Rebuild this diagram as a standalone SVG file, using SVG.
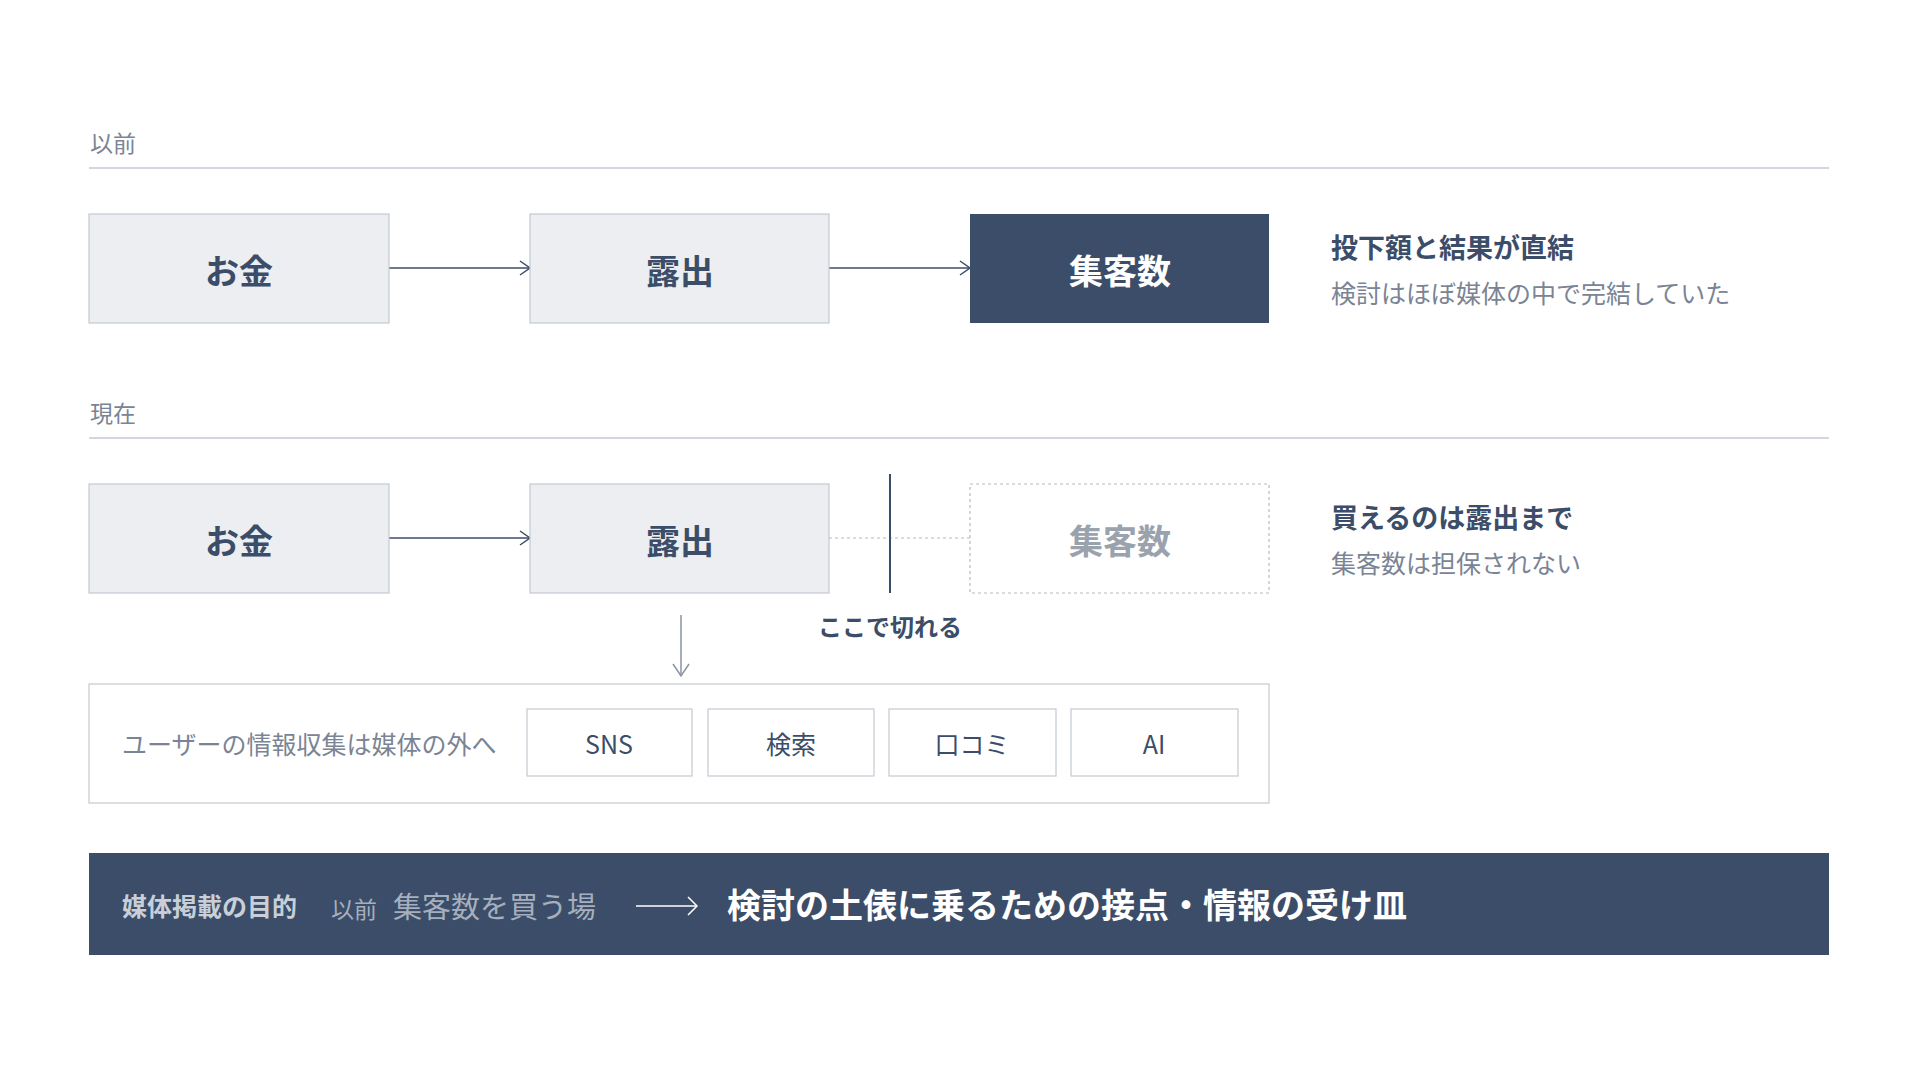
<svg xmlns="http://www.w3.org/2000/svg" width="1920" height="1080" viewBox="0 0 1920 1080">
<defs>
<style>
text{font-family:"Noto Sans CJK JP","Noto Sans",sans-serif}
.sec{font-size:23px;fill:#7a8494}
.rule{stroke:#c4c9d1;stroke-width:1.5}
.box{fill:#eceef2;stroke:#c4c9d1;stroke-width:1.2}
.bl{font-size:34px;font-weight:700;fill:#3b4d68;text-anchor:middle}
.h{font-size:27px;font-weight:700;fill:#3b4d68}
.s{font-size:25px;fill:#7a8494}
.chip{fill:#fff;stroke:#c4c9d1;stroke-width:1.2}
.ct{font-size:25px;fill:#3b4d68;text-anchor:middle}
.ar{stroke:#3b4d68;stroke-width:1.5;fill:none}
</style>
<marker id="ah" markerWidth="12" markerHeight="16" refX="11" refY="8" orient="auto" markerUnits="userSpaceOnUse"><path d="M1,1 L11,8 L1,15" fill="none" stroke="#3b4d68" stroke-width="1.5"/></marker>
</defs>
<rect width="1920" height="1080" fill="#fff"/>
<text class="sec" x="90" y="152">以前</text>
<line class="rule" x1="89" y1="168" x2="1829" y2="168"/>
<text class="sec" x="90" y="422">現在</text>
<line class="rule" x1="89" y1="438" x2="1829" y2="438"/>
<g id="connectors">
<line class="ar" x1="389" y1="268" x2="530" y2="268" marker-end="url(#ah)"/>
<line class="ar" x1="829" y1="268" x2="970" y2="268" marker-end="url(#ah)"/>
<line class="ar" x1="389" y1="538" x2="530" y2="538" marker-end="url(#ah)"/>
<line x1="829" y1="538" x2="970" y2="538" stroke="#b4bac4" stroke-width="1.2" stroke-dasharray="3 3"/>
<line x1="890" y1="474" x2="890" y2="593" stroke="#3b4d68" stroke-width="2"/>
<line x1="681" y1="615" x2="681" y2="676" stroke="#8a93a2" stroke-width="1.5"/>
<path d="M673,664 L681,676 L689,664" fill="none" stroke="#8a93a2" stroke-width="1.5"/>
</g>
<g id="n1"><rect class="box" x="89" y="214" width="300" height="109"/><text class="bl" x="239" y="284">お金</text></g>
<g id="n2"><rect class="box" x="530" y="214" width="299" height="109"/><text class="bl" x="680" y="284">露出</text></g>
<g id="n3"><rect x="970" y="214" width="299" height="109" fill="#3b4d68"/><text class="bl" x="1120" y="284" style="fill:#fff">集客数</text></g>
<g id="note1"><text class="h" x="1331" y="258">投下額と結果が直結</text><text class="s" x="1331" y="303">検討はほぼ媒体の中で完結していた</text></g>
<g id="n4"><rect class="box" x="89" y="484" width="300" height="109"/><text class="bl" x="239" y="554">お金</text></g>
<g id="n5"><rect class="box" x="530" y="484" width="299" height="109"/><text class="bl" x="680" y="554">露出</text></g>
<g id="n6"><rect x="970" y="484" width="299" height="109" fill="#fff" stroke="#b4bac4" stroke-width="1.2" stroke-dasharray="3 3"/><text class="bl" x="1120" y="554" style="fill:#9aa2ae">集客数</text></g>
<g id="note2"><text class="h" x="1331" y="528">買えるのは露出まで</text><text class="s" x="1331" y="573">集客数は担保されない</text></g>
<text x="890" y="636" font-size="24" font-weight="700" fill="#3b4d68" text-anchor="middle">ここで切れる</text>
<g id="outside">
<rect x="89" y="684" width="1180" height="119" fill="#fff" stroke="#c4c9d1" stroke-width="1.2"/>
<text x="122" y="754" font-size="25" fill="#7a8494">ユーザーの情報収集は媒体の外へ</text>
<rect class="chip" x="527" y="709" width="165" height="67"/><text class="ct" x="609" y="754">SNS</text>
<rect class="chip" x="708" y="709" width="166" height="67"/><text class="ct" x="791" y="754">検索</text>
<rect class="chip" x="889" y="709" width="167" height="67"/><text class="ct" x="972" y="754">口コミ</text>
<rect class="chip" x="1071" y="709" width="167" height="67"/><text class="ct" x="1154" y="754">AI</text>
</g>
<g id="band">
<rect x="89" y="853" width="1740" height="102" fill="#3b4d68"/>
<text x="122" y="916" font-size="25" font-weight="700" fill="#c9cfd9">媒体掲載の目的</text>
<text x="331" y="918" font-size="23" fill="#a6afbd">以前</text>
<text x="393" y="918" font-size="29" fill="#a6afbd">集客数を買う場</text>
<line x1="636" y1="906" x2="696" y2="906" stroke="#fff" stroke-width="1.5"/>
<path d="M688,897 L697,906 L688,915" fill="none" stroke="#fff" stroke-width="1.5"/>
<text x="727" y="918" font-size="34" font-weight="700" fill="#fff">検討の土俵に乗るための接点・情報の受け皿</text>
</g>
</svg>
